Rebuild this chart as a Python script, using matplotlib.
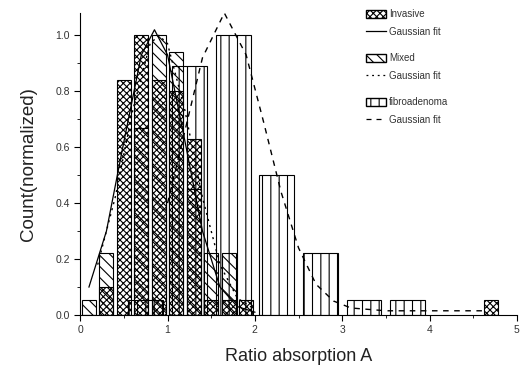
import matplotlib
matplotlib.use("Agg")
import matplotlib.pyplot as plt
from matplotlib.patches import Patch
from matplotlib.lines import Line2D
from matplotlib.legend import Legend
from matplotlib.ticker import MultipleLocator

# histogram bins (narrow bars, 0.2 spacing)
BIN_CENTERS = [0.1, 0.3, 0.5, 0.7, 0.9, 1.1, 1.3, 1.5, 1.7, 1.9, 4.7]
INVASIVE = [0.0, 0.10, 0.84, 1.0, 0.84, 0.80, 0.63, 0.055, 0.055, 0.055, 0.055]
MIXED = [0.055, 0.22, 0.0, 0.67, 1.0, 0.94, 0.45, 0.22, 0.22, 0.0, 0.0]

# fibroadenoma histogram (wide bars, 0.5 spacing)
FIB_CENTERS = [0.75, 1.25, 1.75, 2.25, 2.75, 3.25, 3.75]
FIBRO = [0.055, 0.89, 1.0, 0.5, 0.22, 0.055, 0.055]

# Gaussian fit curves
INV_FIT_X = [0.1, 0.3, 0.5, 0.7, 0.85, 1.0, 1.2, 1.4, 1.6, 1.8, 2.0]
INV_FIT_Y = [0.10, 0.30, 0.62, 0.93, 1.02, 0.93, 0.62, 0.30, 0.10, 0.03, 0.01]
MIX_FIT_X = [0.2, 0.4, 0.6, 0.8, 0.9, 1.0, 1.2, 1.4, 1.6, 1.8, 2.0]
MIX_FIT_Y = [0.18, 0.42, 0.73, 0.97, 1.0, 0.97, 0.73, 0.42, 0.18, 0.06, 0.02]
FIB_FIT_X = [1.0, 1.2, 1.4, 1.65, 1.9, 2.1, 2.3, 2.5, 2.7, 2.9, 3.1, 3.5, 4.0, 4.6]
FIB_FIT_Y = [0.40, 0.66, 0.92, 1.08, 0.93, 0.69, 0.44, 0.24, 0.11, 0.05, 0.025, 0.015, 0.015, 0.015]

LEGEND_GROUPS = [("Invasive", "xxxxx", "-"),
                 ("Mixed", "\\\\\\", (0, (1.5, 3))),
                 ("fibroadenoma", "||", (0, (4, 4)))]

plt.rcParams.update({
    "font.family": ["Liberation Sans", "DejaVu Sans"],
    "hatch.linewidth": 0.8,
})

fig = plt.figure(figsize=(5.21, 3.71), dpi=100)
ax = fig.add_axes([0.154, 0.151, 0.838, 0.814])

ax.bar(FIB_CENTERS, FIBRO, width=0.4, facecolor="none", edgecolor="black",
       hatch="||", linewidth=0.8, zorder=1)
ax.bar(BIN_CENTERS, MIXED, width=0.16, facecolor="none", edgecolor="black",
       hatch="\\\\\\", linewidth=0.8, zorder=2)
ax.bar(BIN_CENTERS, INVASIVE, width=0.16, facecolor="none", edgecolor="black",
       hatch="xxxxx", linewidth=0.8, zorder=3)

ax.plot(INV_FIT_X, INV_FIT_Y, color="black", linestyle="-", linewidth=0.9, zorder=4)
ax.plot(MIX_FIT_X, MIX_FIT_Y, color="black", linestyle=(0, (1.5, 3)), linewidth=1.0, zorder=4)
ax.plot(FIB_FIT_X, FIB_FIT_Y, color="black", linestyle=(0, (4, 4)), linewidth=1.0, zorder=4)

ax.set_xlim(0, 5)
ax.set_ylim(0, 1.08)
ax.xaxis.set_major_locator(MultipleLocator(1))
ax.xaxis.set_minor_locator(MultipleLocator(0.5))
ax.yaxis.set_minor_locator(MultipleLocator(0.1))
ax.set_yticks([0.0, 0.2, 0.4, 0.6, 0.8, 1.0])
ax.set_yticklabels(["0.0", "0.2", "0.4", "0.6", "0.8", "1.0"])
ax.tick_params(which="both", direction="out", labelsize=7.5, colors="black", labelcolor="#333333")
ax.tick_params(which="major", length=4)
ax.tick_params(which="minor", length=2.5)
ax.spines["top"].set_visible(False)
ax.spines["right"].set_visible(False)

ax.set_xlabel("Ratio absorption A", fontsize=13, color="#222222", labelpad=9)
ax.set_ylabel("Count(normalized)", fontsize=13.5, color="#222222", labelpad=13)

# three stacked legend groups, each a histogram + its fit
for i, (name, hatch, ls) in enumerate(LEGEND_GROUPS):
    handles = [Patch(facecolor="white", edgecolor="black", hatch=hatch),
               Line2D([], [], color="black", linestyle=ls, linewidth=0.9)]
    leg = Legend(ax, handles, [name, "Gaussian fit"], loc="upper left",
                 bbox_to_anchor=(0.64, 1.035 - i * 0.146), frameon=False,
                 fontsize=7, handlelength=2.0, handleheight=0.9,
                 labelspacing=0.8, handletextpad=0.3, borderpad=0.2,
                 labelcolor="#333333")
    ax.add_artist(leg)

fig.savefig("out.png", dpi=100)
